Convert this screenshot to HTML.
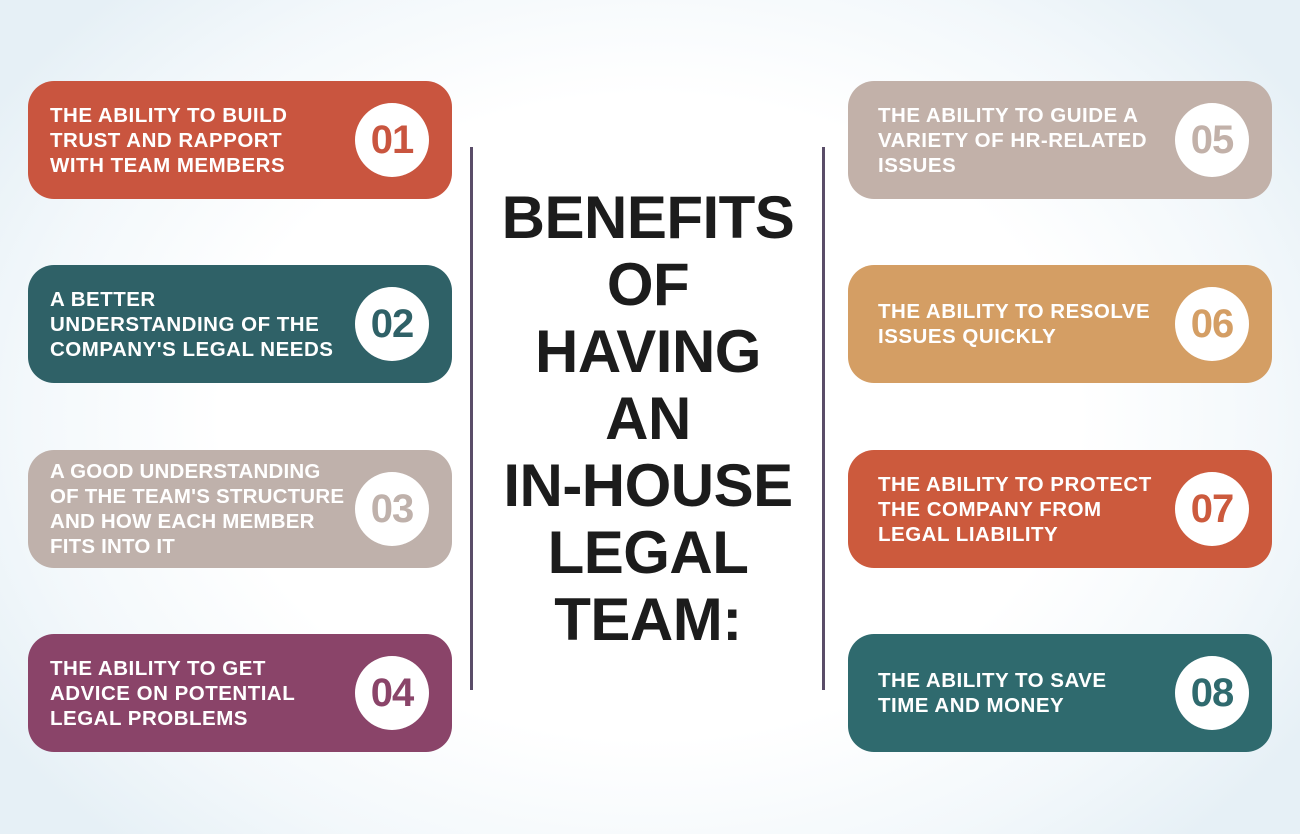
<!DOCTYPE html>
<html><head><meta charset="utf-8"><style>
html,body{margin:0;padding:0}
body{width:1300px;height:834px;position:relative;overflow:hidden;font-family:"Liberation Sans",sans-serif;
background:radial-gradient(ellipse 60% 70% at 50% 50%,#ffffff 55%,#f3f8fb 80%,#e6f0f6 100%);}
.card{position:absolute;width:424px;height:118px;border-radius:26px;display:flex;align-items:center;}
.card .txt{position:absolute;left:22px;top:0;height:118px;display:flex;align-items:center;color:#fff;font-weight:bold;font-size:20.5px;line-height:25px;letter-spacing:0.5px}
.card .num{position:absolute;left:327px;top:22px;width:74px;height:74px;border-radius:50%;background:#fff;display:flex;align-items:center;justify-content:center;font-weight:bold;font-size:40px;letter-spacing:-1px}
.vline{position:absolute;top:147px;width:3px;height:543px;background:#5a4d68}
.title{position:absolute;left:480px;width:336px;top:184px;text-align:center;font-weight:bold;font-size:60px;line-height:67px;color:#1c1c1c;letter-spacing:-0.5px}
</style></head><body>
<div class="vline" style="left:470px"></div>
<div class="vline" style="left:822px"></div>
<div class="title">BENEFITS<br>OF<br>HAVING<br>AN<br>IN-HOUSE<br>LEGAL<br>TEAM:</div>

<div class="card" style="left:28px;top:81px;background:#c9553f"><div class="txt">THE ABILITY TO BUILD<br>TRUST AND RAPPORT<br>WITH TEAM MEMBERS</div><div class="num" style="color:#c9553f">01</div></div>
<div class="card" style="left:28px;top:265px;background:#2f6167"><div class="txt">A BETTER<br>UNDERSTANDING OF THE<br>COMPANY'S LEGAL NEEDS</div><div class="num" style="color:#2f6167">02</div></div>
<div class="card" style="left:28px;top:450px;background:#bfb1ab"><div class="txt" style="letter-spacing:0.2px">A GOOD UNDERSTANDING<br>OF THE TEAM'S STRUCTURE<br>AND HOW EACH MEMBER<br>FITS INTO IT</div><div class="num" style="color:#bfb1ab">03</div></div>
<div class="card" style="left:28px;top:634px;background:#8a4469"><div class="txt">THE ABILITY TO GET<br>ADVICE ON POTENTIAL<br>LEGAL PROBLEMS</div><div class="num" style="color:#8a4469">04</div></div>

<div class="card" style="left:848px;top:81px;background:#c2b1a9"><div class="txt" style="left:30px">THE ABILITY TO GUIDE A<br>VARIETY OF HR-RELATED<br>ISSUES</div><div class="num" style="color:#c2b1a9">05</div></div>
<div class="card" style="left:848px;top:265px;background:#d49e64"><div class="txt" style="left:30px">THE ABILITY TO RESOLVE<br>ISSUES QUICKLY</div><div class="num" style="color:#d49e64">06</div></div>
<div class="card" style="left:848px;top:450px;background:#cc5a3d"><div class="txt" style="left:30px">THE ABILITY TO PROTECT<br>THE COMPANY FROM<br>LEGAL LIABILITY</div><div class="num" style="color:#cc5a3d">07</div></div>
<div class="card" style="left:848px;top:634px;background:#2f6a6e"><div class="txt" style="left:30px">THE ABILITY TO SAVE<br>TIME AND MONEY</div><div class="num" style="color:#2f6a6e">08</div></div>
</body></html>
